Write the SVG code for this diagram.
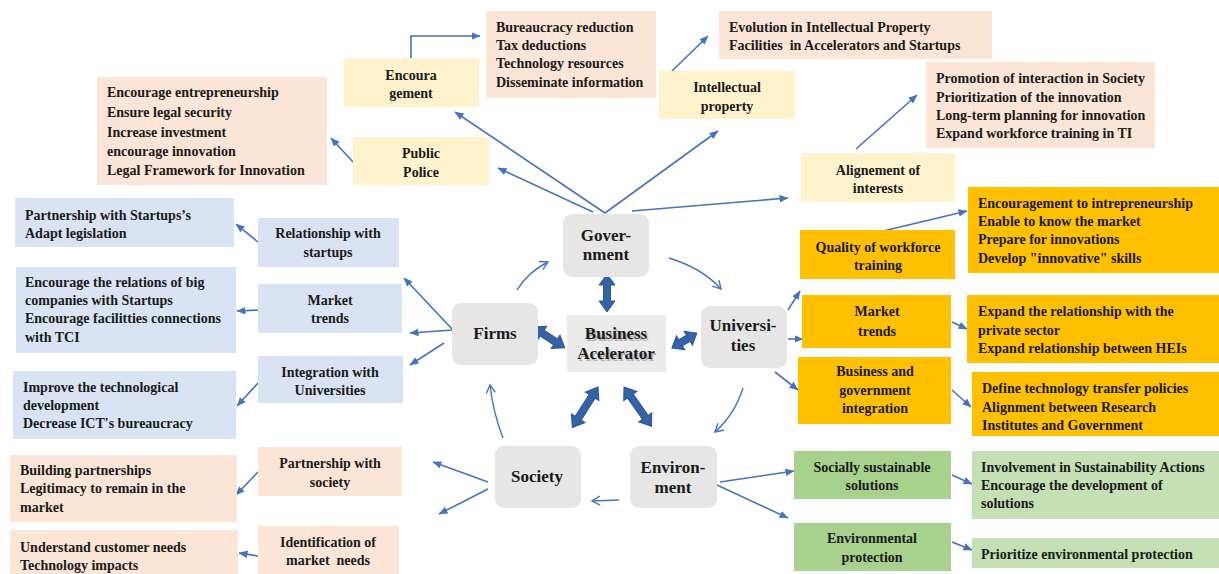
<svg xmlns="http://www.w3.org/2000/svg" width="1219" height="574" viewBox="0 0 1219 574">
<style>
text{font-family:"Liberation Serif","Times New Roman",serif;font-weight:bold;font-size:14px;fill:#1a1a1a}
.c{text-anchor:middle}
.big{font-size:17px}
.peach{fill:#FBE5D6}
.ylw{fill:#FFF2CC}
.blue{fill:#DAE3F3}
.org{fill:#FFC000}
.grn{fill:#A9D18E}
.lgrn{fill:#C5E0B4}
.node{fill:#E6E6E6}
.ln{fill:none;stroke:#4472C4;stroke-width:1.6;marker-end:url(#ah)}
.cv{fill:none;stroke:#4472C4;stroke-width:1.4;marker-end:url(#av)}
.dbl{fill:#3563A8;stroke:#2B5494;stroke-width:1}
</style>
<defs>
<marker id="ah" markerUnits="userSpaceOnUse" markerWidth="10" markerHeight="8" refX="8.5" refY="3.75" orient="auto">
<path d="M0,0 L9,3.75 L0,7.5 z" fill="#4472C4"/>
</marker>
<marker id="av" markerUnits="userSpaceOnUse" markerWidth="11" markerHeight="12" refX="9" refY="5.5" orient="auto">
<path d="M1,1 L9,5.5 L1,10" fill="none" stroke="#4472C4" stroke-width="1.4"/>
</marker>
</defs>
<rect width="1219" height="574" fill="#FFFFFF"/>

<g id="connectors">
<path class="ln" d="M411,58 V36 H480"/>
<path class="ln" d="M672,71 L708,36"/>
<path class="ln" d="M353,162 L331,138"/>
<path class="ln" d="M605,213 L455,112"/>
<path class="ln" d="M593,212 L498,168"/>
<path class="ln" d="M605,213 L718,131"/>
<path class="ln" d="M632,211 L788,198"/>
<path class="ln" d="M856,149 L917,95"/>
<path class="ln" d="M258,242 L236,224"/>
<path class="ln" d="M260,310 L237,311"/>
<path class="ln" d="M259,382 L237,406"/>
<path class="ln" d="M453,330 L404,278"/>
<path class="ln" d="M453,330 L410,333"/>
<path class="ln" d="M444,343 L410,365"/>
<path class="ln" d="M788,310 L800,291"/>
<path class="ln" d="M788,339 L803,339"/>
<path class="ln" d="M775,372 L798,390"/>
<path class="ln" d="M879,232 L967,211"/>
<path class="ln" d="M952,322 L967,329"/>
<path class="ln" d="M952,390 L971,407"/>
<path class="ln" d="M720,482 L794,471"/>
<path class="ln" d="M717,485 L788,518"/>
<path class="ln" d="M952,475 L972,484"/>
<path class="ln" d="M952,542 L972,550"/>
<path class="ln" d="M488,482 L433,462"/>
<path class="ln" d="M488,489 L439,514"/>
<path class="ln" d="M258,472 L236,495"/>
<path class="ln" d="M258,556 L239,553"/>
<path class="cv" d="M517,290 Q528,272 548,262"/>
<path class="cv" d="M669,258 Q702,268 721,289"/>
<path class="cv" d="M743,388 Q735,414 715,432"/>
<path class="cv" d="M619,500 L592,501"/>
<path class="cv" d="M503,438 Q493,412 490,385"/>
<polygon class="dbl" transform="translate(607,274) rotate(90)" points="0,0 11,-8 11,-3.5 27,-3.5 27,-8 38,0 27,8 27,3.5 11,3.5 11,8"/>
<polygon class="dbl" transform="translate(533,327) rotate(33.3)" points="0,0 11,-8 11,-3.5 27,-3.5 27,-8 38,0 27,8 27,3.5 11,3.5 11,8"/>
<polygon class="dbl" transform="translate(672,348) rotate(-31)" points="0,0 10,-8 10,-3.5 19,-3.5 19,-8 29,0 19,8 19,3.5 10,3.5 10,8"/>
<polygon class="dbl" transform="translate(598,387) rotate(122.4)" points="0,0 11,-8 11,-3.5 37,-3.5 37,-8 48,0 37,8 37,3.5 11,3.5 11,8"/>
<polygon class="dbl" transform="translate(624,387) rotate(55)" points="0,0 11,-8 11,-3.5 37,-3.5 37,-8 48,0 37,8 37,3.5 11,3.5 11,8"/>
</g>

<g id="government"><rect class="node" x="563" y="214" width="86" height="63" rx="9"/><text class="c big" x="606" y="241">Gover-</text><text class="c big" x="606" y="260">nment</text></g>
<g id="firms"><rect class="node" x="452" y="303" width="86" height="62" rx="9"/><text class="c big" x="495" y="339">Firms</text></g>
<g id="business-accelerator"><rect x="567" y="315" width="99" height="57" fill="#EBEBEB"/>
<text class="c big" x="617.5" y="340.5" style="fill:#b4b4b4">Business</text><text class="c big" x="617.5" y="360.5" style="fill:#b4b4b4">Acelerator</text>
<text class="c big" x="616" y="339">Business</text><text class="c big" x="616" y="359">Acelerator</text></g>
<g id="universities"><rect class="node" x="701" y="306" width="86" height="62" rx="9"/><text class="c big" x="743" y="331">Universi-</text><text class="c big" x="743" y="351">ties</text></g>
<g id="society"><rect class="node" x="495" y="446" width="86" height="62" rx="9"/><text class="c big" x="537" y="482">Society</text></g>
<g id="environment"><rect class="node" x="630" y="446" width="87" height="62" rx="9"/><text class="c big" x="673" y="473">Environ-</text><text class="c big" x="673" y="493">ment</text></g>

<g id="encouragement"><rect class="ylw" x="344" y="58" width="135" height="49"/><text class="c" x="411" y="80">Encoura</text><text class="c" x="411" y="98">gement</text></g>
<g id="encouragement-items"><rect class="peach" x="486" y="11" width="170" height="87"/><text x="496" y="32">Bureaucracy reduction</text><text x="496" y="50">Tax deductions</text><text x="496" y="68">Technology resources</text><text x="496" y="87">Disseminate information</text></g>
<g id="intellectual-property"><rect class="ylw" x="659" y="71" width="136" height="48"/><text class="c" x="727" y="92">Intellectual</text><text class="c" x="727" y="111">property</text></g>
<g id="ip-items"><rect class="peach" x="719" y="11" width="273" height="48"/><text x="729" y="32">Evolution in Intellectual Property</text><text x="729" y="50">Facilities&#160; in Accelerators and Startups</text></g>
<g id="public-police"><rect class="ylw" x="353" y="137" width="136" height="48"/><text class="c" x="421" y="158">Public</text><text class="c" x="421" y="177">Police</text></g>
<g id="public-police-items"><rect class="peach" x="97" y="77" width="230" height="108"/><text x="107" y="97">Encourage entrepreneurship</text><text x="107" y="117">Ensure legal security</text><text x="107" y="137">Increase investment</text><text x="107" y="156">encourage innovation</text><text x="107" y="175">Legal Framework for Innovation</text></g>
<g id="alignment"><rect class="ylw" x="801" y="153" width="154" height="49"/><text class="c" x="878" y="175">Alignement of</text><text class="c" x="878" y="193">interests</text></g>
<g id="alignment-items"><rect class="peach" x="926" y="62" width="229" height="86"/><text x="936" y="83">Promotion of interaction in Society</text><text x="936" y="102">Prioritization of the innovation</text><text x="936" y="120">Long-term planning for innovation</text><text x="936" y="138">Expand workforce training in TI</text></g>

<g id="relationship-startups"><rect class="blue" x="258" y="218" width="141" height="49"/><text class="c" x="328" y="238">Relationship with</text><text class="c" x="328" y="257">startups</text></g>
<g id="relationship-items"><rect class="blue" x="15" y="198" width="219" height="49"/><text x="25" y="220">Partnership with Startups’s</text><text x="25" y="238">Adapt legislation</text></g>
<g id="firms-market-trends"><rect class="blue" x="258" y="284" width="144" height="49"/><text class="c" x="330" y="305">Market</text><text class="c" x="330" y="323">trends</text></g>
<g id="firms-market-items"><rect class="blue" x="16" y="267" width="220" height="86"/><text x="25" y="287">Encourage the relations of big</text><text x="25" y="305">companies with Startups</text><text x="25" y="323">Encourage facilitties connections</text><text x="25" y="342">with TCI</text></g>
<g id="integration-universities"><rect class="blue" x="258" y="356" width="145" height="47"/><text class="c" x="330" y="377">Integration with</text><text class="c" x="330" y="395">Universities</text></g>
<g id="integration-items"><rect class="blue" x="13" y="371" width="223" height="68"/><text x="23" y="392">Improve the technological</text><text x="23" y="410">development</text><text x="23" y="428">Decrease ICT's bureaucracy</text></g>

<g id="quality-workforce"><rect class="org" x="800" y="230" width="155" height="49"/><text class="c" x="878" y="252">Quality of workforce</text><text class="c" x="878" y="270">training</text></g>
<g id="quality-items"><rect class="org" x="968" y="187" width="251" height="86"/><text x="978" y="208">Encouragement to intrepreneurship</text><text x="978" y="226">Enable to know the market</text><text x="978" y="244">Prepare for innovations</text><text x="978" y="263">Develop "innovative" skills</text></g>
<g id="univ-market-trends"><rect class="org" x="802" y="295" width="149" height="53"/><text class="c" x="877" y="316">Market</text><text class="c" x="877" y="336">trends</text></g>
<g id="univ-market-items"><rect class="org" x="967" y="295" width="252" height="68"/><text x="978" y="316">Expand the relationship with the</text><text x="978" y="335">private sector</text><text x="978" y="353">Expand relationship between HEIs</text></g>
<g id="business-government"><rect class="org" x="798" y="357" width="153" height="67"/><text class="c" x="875" y="376">Business and</text><text class="c" x="875" y="395">government</text><text class="c" x="875" y="413">integration</text></g>
<g id="business-government-items"><rect class="org" x="972" y="372" width="247" height="64"/><text x="982" y="393">Define technology transfer policies</text><text x="982" y="412">Alignment between Research</text><text x="982" y="430">Institutes and Government</text></g>

<g id="socially-sustainable"><rect class="grn" x="794" y="451" width="157" height="48"/><text class="c" x="872" y="472">Socially sustainable</text><text class="c" x="872" y="490">solutions</text></g>
<g id="socially-items"><rect class="lgrn" x="972" y="451" width="247" height="68"/><text x="981" y="472">Involvement in Sustainability Actions</text><text x="981" y="490">Encourage the development of</text><text x="981" y="508">solutions</text></g>
<g id="environmental-protection"><rect class="grn" x="794" y="523" width="157" height="48"/><text class="c" x="872" y="543">Environmental</text><text class="c" x="872" y="562">protection</text></g>
<g id="environmental-items"><rect class="lgrn" x="972" y="538" width="247" height="30"/><text x="981" y="559">Prioritize environmental protection</text></g>

<g id="partnership-society"><rect class="peach" x="258" y="447" width="144" height="49"/><text class="c" x="330" y="468">Partnership with</text><text class="c" x="330" y="487">society</text></g>
<g id="partnership-items"><rect class="peach" x="10" y="455" width="227" height="67"/><text x="20" y="475">Building partnerships</text><text x="20" y="493">Legitimacy to remain in the</text><text x="20" y="512">market</text></g>
<g id="identification-needs"><rect class="peach" x="258" y="526" width="141" height="48"/><text class="c" x="328" y="547">Identification of</text><text class="c" x="328" y="565">market&#160; needs</text></g>
<g id="identification-items"><rect class="peach" x="10" y="530" width="228" height="44"/><text x="20" y="552">Understand customer needs</text><text x="20" y="570">Technology impacts</text></g>
</svg>
